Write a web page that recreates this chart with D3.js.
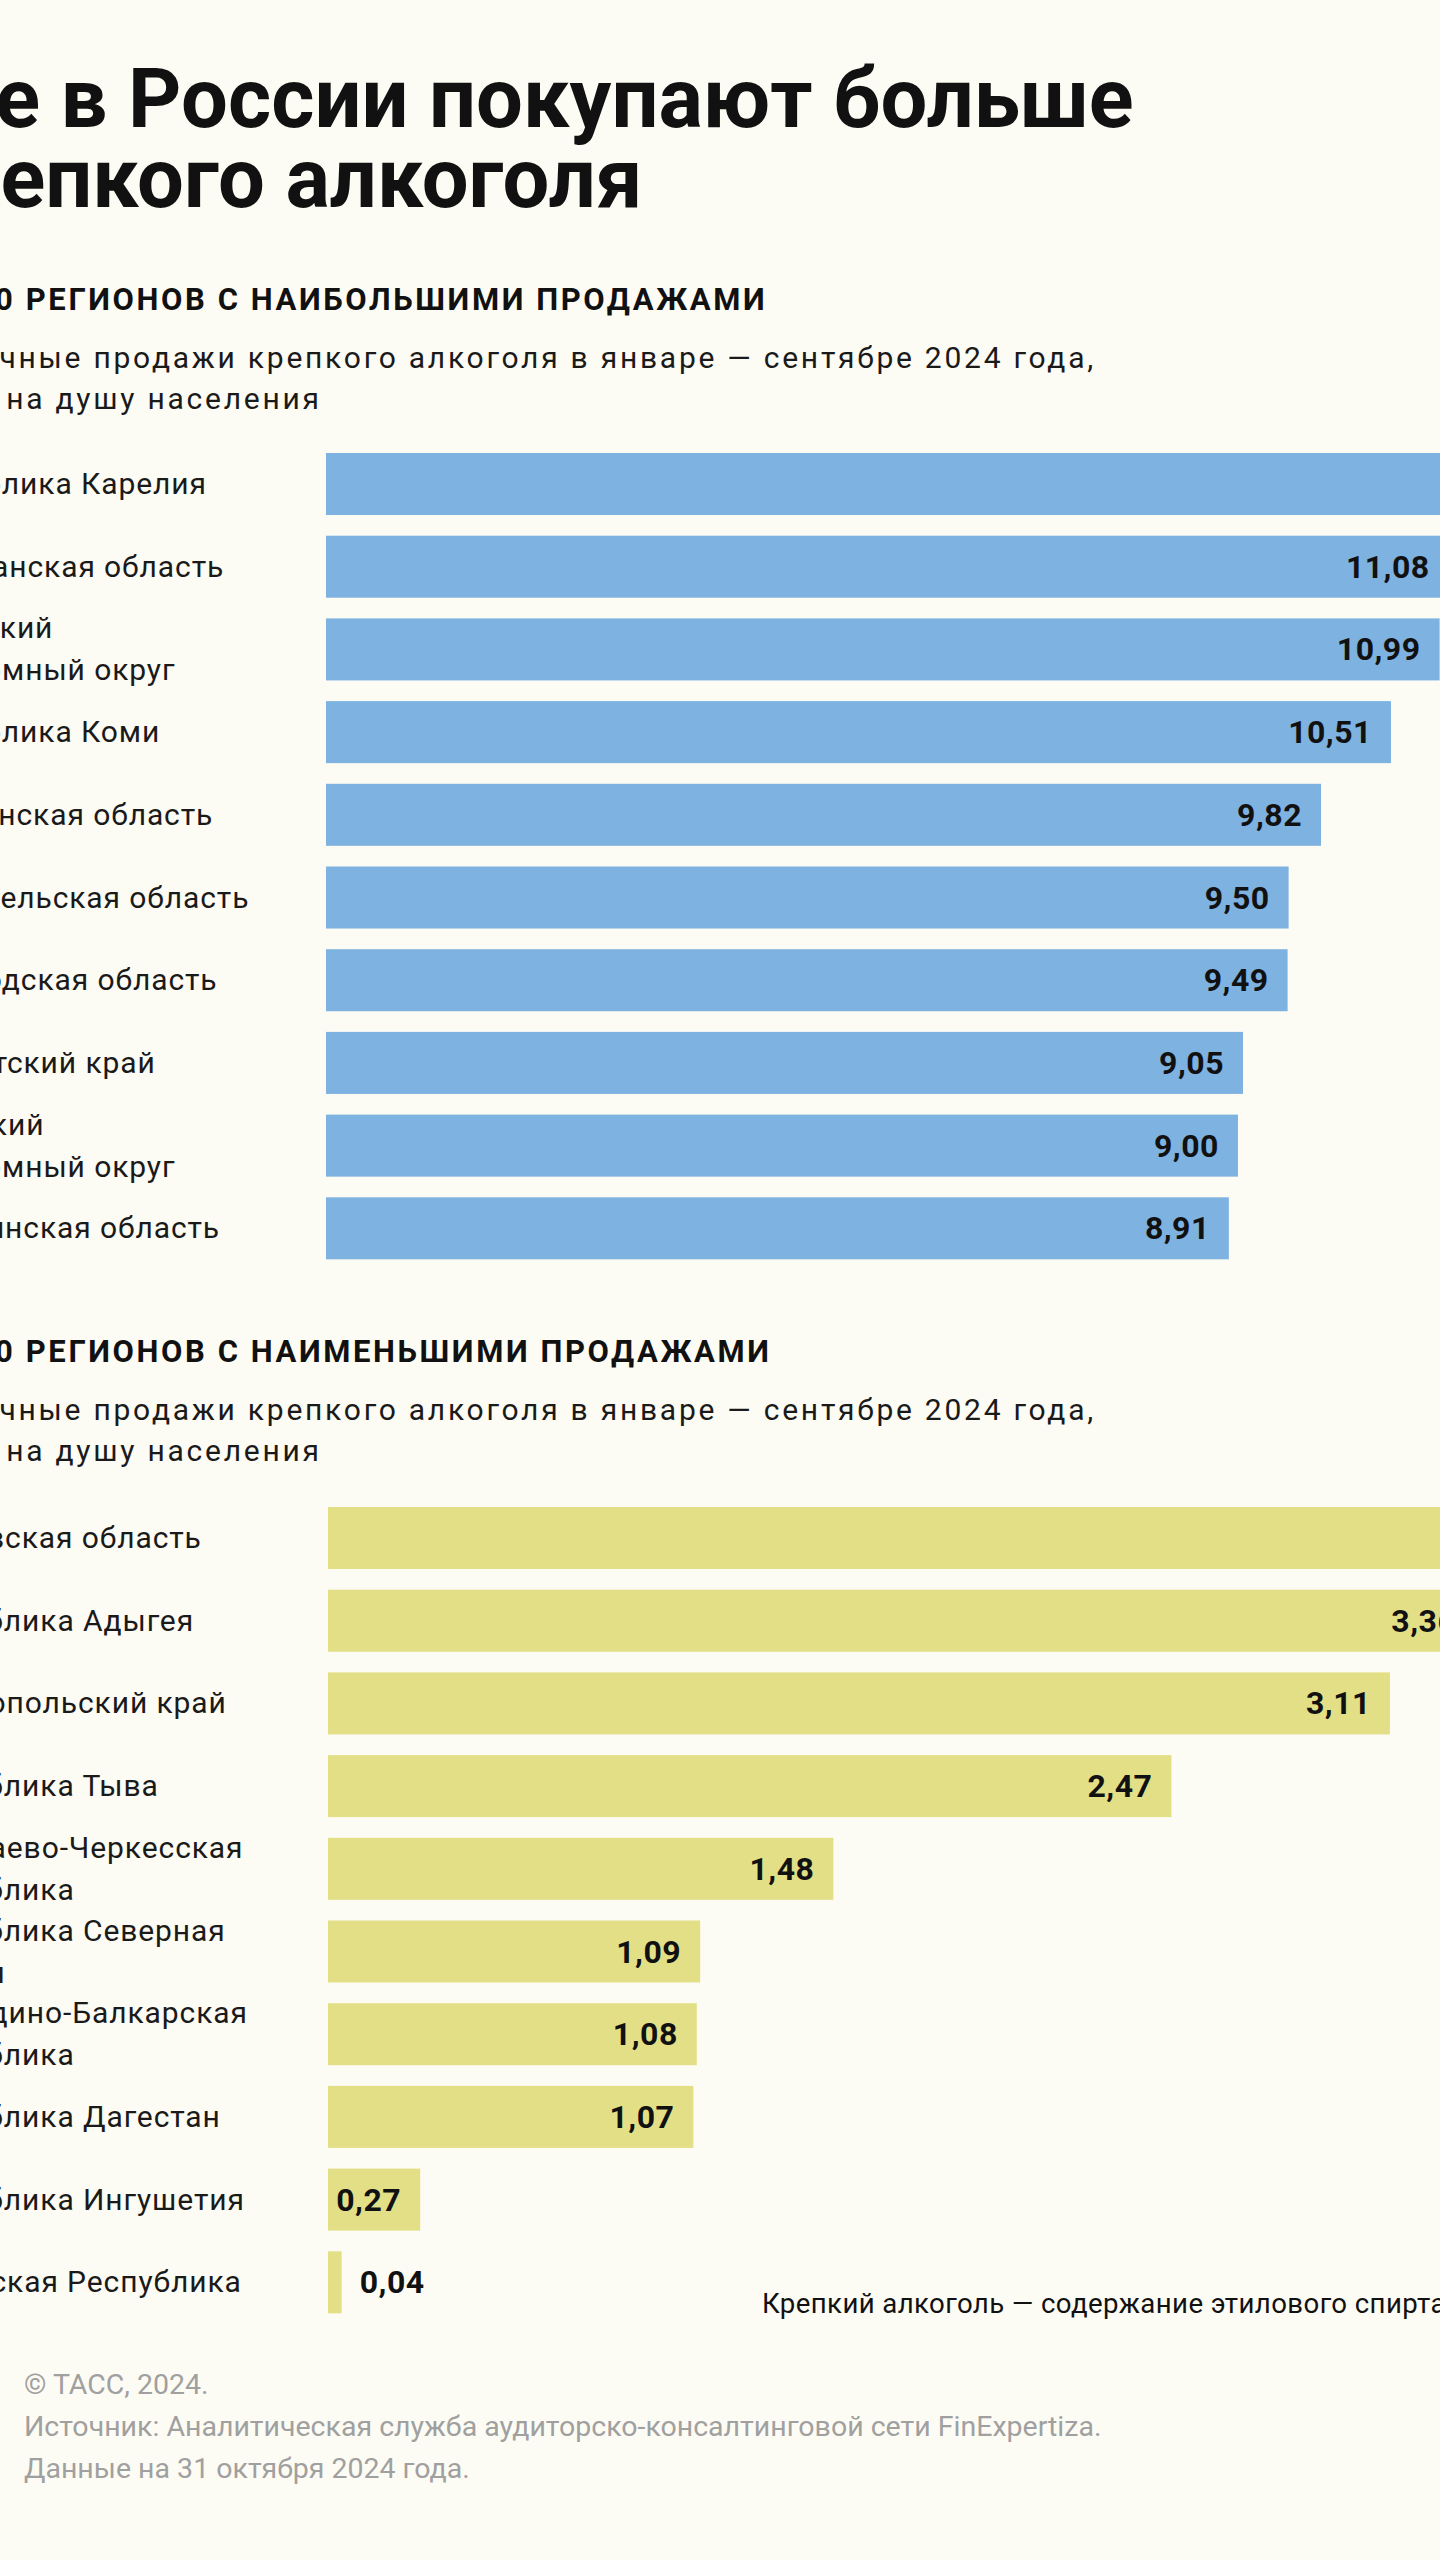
<!DOCTYPE html>
<html>
<head>
<meta charset="utf-8">
<script src="https://cdn.jsdelivr.net/npm/d3@7"></script>
<style>
  html, body { margin: 0; padding: 0; background: #FDFCF4; }
  svg { display: block; }
  text { font-family: Roboto, "Noto Sans", sans-serif; }
</style>
</head>
<body>
<svg id="chart" width="1440" height="2560"></svg>
<script>
// ---------- DATA ----------
const titleLines = ["Где в России покупают больше", "крепкого алкоголя"];

const topHeader = "ТОП-10 РЕГИОНОВ С НАИБОЛЬШИМИ ПРОДАЖАМИ";
const bottomHeader = "ТОП-10 РЕГИОНОВ С НАИМЕНЬШИМИ ПРОДАЖАМИ";
const subtitleLines = [
  "Розничные продажи крепкого алкоголя в январе — сентябре 2024 года,",
  "литра на душу населения"
];

const topRegions = [
  "Республика Карелия",
  "Магаданская область",
  "Чукотский\nавтономный округ",
  "Республика Коми",
  "Мурманская область",
  "Архангельская область",
  "Вологодская область",
  "Камчатский край",
  "Ненецкий\nавтономный округ",
  "Сахалинская область"
];
const topValues = [12.05, 11.08, 10.99, 10.51, 9.82, 9.50, 9.49, 9.05, 9.00, 8.91];

const bottomRegions = [
  "Ростовская область",
  "Республика Адыгея",
  "Ставропольский край",
  "Республика Тыва",
  "Карачаево-Черкесская\nРеспублика",
  "Республика Северная\nОсетия",
  "Кабардино-Балкарская\nРеспублика",
  "Республика Дагестан",
  "Республика Ингушетия",
  "Чеченская Республика"
];
const bottomValues = [3.57, 3.36, 3.11, 2.47, 1.48, 1.09, 1.08, 1.07, 0.27, 0.04];

const footnote = "Крепкий алкоголь — содержание этилового спирта более 9%";
const footerLines = [
  "© ТАСС, 2024.",
  "Источник: Аналитическая служба аудиторско-консалтинговой сети FinExpertiza.",
  "Данные на 31 октября 2024 года."
];

// ---------- LAYOUT ----------
const W = 1440, H = 2560;
const BAR_RIGHT = 1547;
const STEP = 82.7;
const fmt = v => d3.format(".2f")(v).replace(".", ",");

const svg = d3.select("#chart");
svg.append("rect").attr("width", W).attr("height", H).attr("fill", "#FDFCF4");

// Title (left part of the original graphic is cropped)
svg.append("g").selectAll("text").data(titleLines).join("text")
  .attr("x", -93).attr("y", (d, i) => 127 + i * 80)
  .attr("font-size", 83).attr("font-weight", 700).attr("fill", "#111")
  .text(d => d);

function section(cfg) {
  const g = svg.append("g");
  g.append("text")
    .attr("x", -110).attr("y", cfg.headerY)
    .attr("font-size", 31).attr("font-weight", 700).attr("letter-spacing", 2.6)
    .attr("fill", "#111").text(cfg.header);
  g.selectAll("text.sub").data(subtitleLines).join("text").attr("class", "sub")
    .attr("x", -100).attr("y", (d, i) => cfg.headerY + 58 + i * 41)
    .attr("font-size", 30).attr("letter-spacing", 2.75)
    .attr("fill", "#1a1a1a").text(d => d);

  const idx = d3.range(cfg.regions.length);
  const y = d3.scaleBand().domain(idx)
    .range([cfg.barTop - 0.125 * STEP, cfg.barTop - 0.125 * STEP + STEP * idx.length])
    .paddingInner(0.25).paddingOuter(0.125);
  const x = d3.scaleLinear().domain([0, d3.max(cfg.values)]).range([cfg.x0, BAR_RIGHT]);

  g.selectAll("rect.bar").data(idx).join("rect").attr("class", "bar")
    .attr("x", x(0)).attr("y", i => y(i))
    .attr("width", i => x(cfg.values[i]) - x(0))
    .attr("height", y.bandwidth())
    .attr("fill", cfg.color);

  // region labels
  const lab = g.selectAll("text.lab").data(idx).join("text").attr("class", "lab")
    .attr("font-size", 30).attr("letter-spacing", 0.9).attr("fill", "#1a1a1a");
  lab.each(function(i) {
    const lines = cfg.regions[i].split("\n");
    const cy = y(i) + y.bandwidth() / 2;
    const first = cy - (lines.length - 1) * 21 + 10;
    d3.select(this).selectAll("tspan").data(lines).join("tspan")
      .attr("x", -102 + (cfg.labelShift || 0)).attr("y", (d, k) => first + k * 42)
      .text(d => d);
  });

  // value labels
  const val = g.selectAll("text.val").data(idx).join("text").attr("class", "val")
    .attr("font-size", 32).attr("font-weight", 700).attr("letter-spacing", 0.5)
    .attr("fill", "#111")
    .attr("y", i => y(i) + y.bandwidth() / 2 + 11)
    .text(i => fmt(cfg.values[i]));
  val.each(function(i) {
    const w = this.getComputedTextLength();
    const bw = x(cfg.values[i]) - x(0);
    const el = d3.select(this);
    if (bw >= w + 26) {
      el.attr("x", x(cfg.values[i]) - 19).attr("text-anchor", "end");
    } else {
      el.attr("x", x(cfg.values[i]) + 18).attr("text-anchor", "start");
    }
  });
}

section({ header: topHeader, headerY: 310, barTop: 453, x0: 326,
          regions: topRegions, values: topValues, color: "#7EB2E0" });
section({ header: bottomHeader, headerY: 1362, barTop: 1507, x0: 328, labelShift: 2,
          regions: bottomRegions, values: bottomValues, color: "#E3DF87" });

svg.append("text").attr("x", 762).attr("y", 2313)
  .attr("font-size", 27.6).attr("letter-spacing", 0.4).attr("fill", "#111").text(footnote);

svg.append("g").selectAll("text").data(footerLines).join("text")
  .attr("x", 24).attr("y", (d, i) => 2394 + i * 42)
  .attr("font-size", 28.5).attr("fill", "#a0a0a0").text(d => d);
</script>
</body>
</html>
